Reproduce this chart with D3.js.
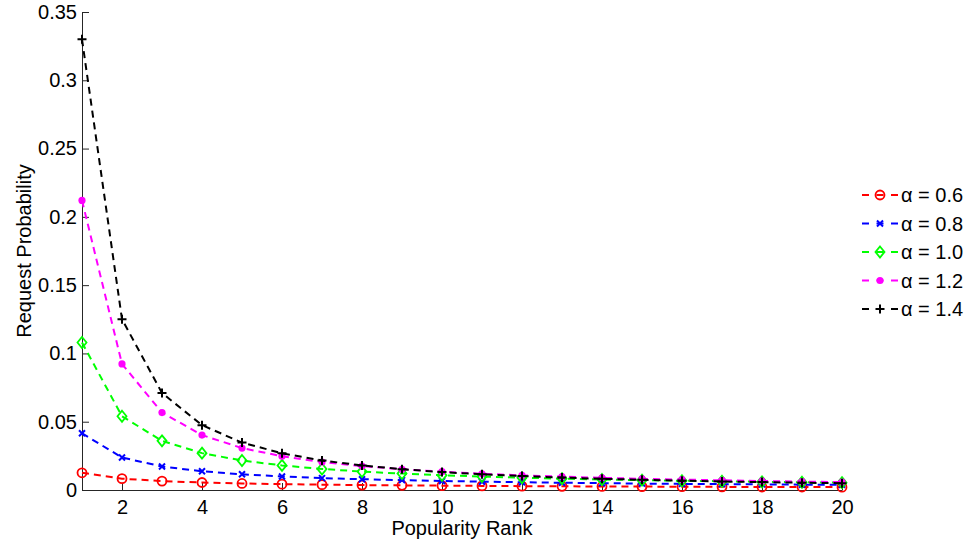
<!DOCTYPE html>
<html>
<head>
<meta charset="utf-8">
<script src="https://cdn.jsdelivr.net/npm/d3@7"></script>
<style>
  body { margin: 0; background: #fff; }
  svg { display: block; font-family: "Liberation Sans", Arial, Helvetica, sans-serif; }
</style>
</head>
<body>
<svg id="chart" width="973" height="543"></svg>
<script>
// popularity ranks and request probability per Zipf exponent
const ranks = d3.range(1, 21);
const alphaLabels = ["α = 0.6", "α = 0.8", "α = 1.0", "α = 1.2", "α = 1.4"];
const p06 = [0.0126, 0.0083, 0.0065, 0.0055, 0.0048, 0.0043, 0.0039, 0.0036, 0.0034, 0.0032,
             0.0030, 0.0028, 0.0027, 0.0026, 0.0025, 0.0024, 0.0023, 0.0022, 0.0022, 0.0021];
const p08 = [0.0415, 0.0238, 0.0172, 0.0137, 0.0115, 0.0099, 0.0087, 0.0079, 0.0072, 0.0066,
             0.0061, 0.0057, 0.0053, 0.0050, 0.0047, 0.0045, 0.0043, 0.0041, 0.0039, 0.0038];
const p10 = [0.108, 0.054, 0.036, 0.027, 0.0216, 0.018, 0.0154, 0.0135, 0.012, 0.0108,
             0.0098, 0.0090, 0.0083, 0.0077, 0.0072, 0.0068, 0.0064, 0.0060, 0.0057, 0.0054];
const p12 = [0.212, 0.0923, 0.0567, 0.0402, 0.0307, 0.0247, 0.0205, 0.0175, 0.0152, 0.0134,
             0.0119, 0.0107, 0.0098, 0.0089, 0.0082, 0.0076, 0.0071, 0.0066, 0.0062, 0.0058];
const p14 = [0.330, 0.125, 0.071, 0.0475, 0.0347, 0.0269, 0.0216, 0.0180, 0.0152, 0.0131,
             0.0115, 0.0102, 0.0091, 0.0082, 0.0075, 0.0068, 0.0062, 0.0058, 0.0053, 0.0050];
const xTicks = [2, 4, 6, 8, 10, 12, 14, 16, 18, 20];
const yTicks = [0, 0.05, 0.1, 0.15, 0.2, 0.25, 0.3, 0.35];

const seriesValues = [p06, p08, p10, p12, p14];
const colors = ["#ff0000", "#0000ff", "#00ff00", "#ff00ff", "#000000"];
const markers = ["circle", "cross", "diamond", "dot", "plus"];

const svg = d3.select("#chart");
const margin = {left: 82, right: 131, top: 12, bottom: 53};
const width = 973 - margin.left - margin.right;
const height = 543 - margin.top - margin.bottom;

const x = d3.scaleLinear().domain([1, 20]).range([0, width]);
const y = d3.scaleLinear().domain([0, 0.35]).range([height, 0]);

const g = svg.append("g").attr("transform", "translate(" + margin.left + "," + margin.top + ")");

// axes (ticks point inward like matlab)
const xAxis = g.append("g")
    .attr("transform", "translate(0," + height + ")")
    .call(d3.axisBottom(x).tickValues(xTicks).tickSize(-7).tickPadding(10).tickFormat(d3.format("d")));
const yAxis = g.append("g")
    .call(d3.axisLeft(y).tickValues(yTicks).tickSize(-7).tickPadding(5).tickFormat(d3.format("~g")));

[xAxis, yAxis].forEach(function(a) {
    a.select(".domain").attr("stroke", "#262626").attr("stroke-width", 1);
    a.selectAll(".tick line").attr("stroke", "#262626");
    a.selectAll(".tick text").attr("fill", "#000").style("font-size", "20px");
});
// matlab-style domain without outer end caps
xAxis.select(".domain").attr("d", "M0.5,0.5H" + (width + 0.5));
yAxis.select(".domain").attr("d", "M0.5,0.5V" + (height + 0.5));

// axis labels
g.append("text")
    .attr("x", width / 2)
    .attr("y", height + 45)
    .attr("text-anchor", "middle")
    .style("font-size", "20px")
    .text("Popularity Rank");
g.append("text")
    .attr("transform", "translate(" + (-51) + "," + (height / 2) + ") rotate(-90)")
    .attr("text-anchor", "middle")
    .style("font-size", "20px")
    .text("Request Probability");

function drawMarker(sel, type, color) {
    if (type === "circle") {
        sel.append("circle").attr("r", 4.5).attr("fill", "none")
            .attr("stroke", color).attr("stroke-width", 1.8);
    } else if (type === "dot") {
        sel.append("circle").attr("r", 3.6).attr("fill", color);
    } else if (type === "diamond") {
        sel.append("path").attr("d", "M0,-5.5L4.5,0L0,5.5L-4.5,0Z").attr("fill", "none")
            .attr("stroke", color).attr("stroke-width", 1.8);
    } else if (type === "cross") {
        sel.append("path").attr("d", "M-3,-3L3,3M-3,3L3,-3").attr("fill", "none")
            .attr("stroke", color).attr("stroke-width", 2);
    } else if (type === "plus") {
        sel.append("path").attr("d", "M-4.5,0H4.5M0,-4.5V4.5").attr("fill", "none")
            .attr("stroke", color).attr("stroke-width", 2);
    }
}

const line = d3.line()
    .x(function(d, i) { return x(ranks[i]); })
    .y(function(d) { return y(d); });

seriesValues.forEach(function(vals, s) {
    const sg = g.append("g").attr("class", "series");
    sg.append("path")
        .datum(vals)
        .attr("d", line)
        .attr("fill", "none")
        .attr("stroke", colors[s])
        .attr("stroke-width", 2)
        .attr("stroke-dasharray", "7,5");
    sg.selectAll("g.mk")
        .data(vals)
        .enter().append("g")
        .attr("class", "mk")
        .attr("transform", function(d, i) { return "translate(" + x(ranks[i]) + "," + y(d) + ")"; })
        .each(function() { drawMarker(d3.select(this), markers[s], colors[s]); });
});

// legend
const legend = svg.append("g").attr("transform", "translate(862,195)");
alphaLabels.forEach(function(label, i) {
    const row = legend.append("g").attr("transform", "translate(0," + (i * 28.5) + ")");
    row.append("path")
        .attr("d", "M0,0H36")
        .attr("stroke", colors[i])
        .attr("stroke-width", 2)
        .attr("stroke-dasharray", "7,7.5");
    const mk = row.append("g").attr("transform", "translate(18,0)");
    drawMarker(mk, markers[i], colors[i]);
    row.append("text")
        .attr("x", 39)
        .attr("y", 0)
        .attr("dy", "0.36em")
        .style("font-size", "20px")
        .text(label);
});
</script>
</body>
</html>
